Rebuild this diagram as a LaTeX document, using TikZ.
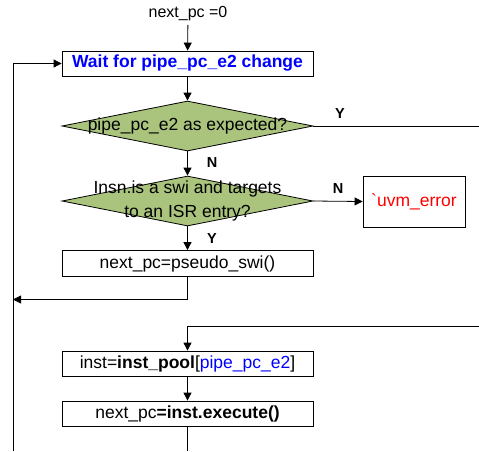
\documentclass[tikz,border=0pt]{standalone}
\usepackage{fontspec}
\setmainfont{Liberation Sans}
\usepackage{tikz}
\usetikzlibrary{shapes.geometric,     % losanges
           arrows.meta,               % pointes de fleches
           positioning}
\definecolor{vert}{RGB}{170,196,126}

\begin{document}
\begin{tikzpicture}[x=1pt,y=-1pt,line width=0.8pt,
  boite/.style={draw,rectangle,minimum width=251pt,minimum height=25pt,inner sep=0pt,font=\fontsize{17.5}{20}\selectfont},
  losange/.style={draw,diamond,fill=vert,minimum width=251pt,minimum height=50pt,inner sep=0pt},
  txt/.style={font=\fontsize{17.5}{24}\selectfont,align=center},
  yn/.style={font=\fontsize{14.5}{16}\selectfont\bfseries},
  fl/.style={-{Triangle[length=8pt,width=8pt]}}]
\useasboundingbox(0,0)rectangle(479,451);
\node[font=\fontsize{16}{18}\selectfont](debut) at (188,14) {next\_pc =0};
\node[boite,font=\fontsize{17.5}{20}\selectfont\bfseries,text=blue](attente) at (187.5,63.5) {Wait for pipe\_pc\_e2 change};
\node[losange](test1) at (187.5,126) {};
\node[txt] at (test1.center) {pipe\_pc\_e2 as expected?};
\node[losange](test2) at (187.5,201) {};
\node[txt] at (test2.center) {Insn.is a swi and targets\\to an ISR entry?};
\node[boite,minimum width=102pt,minimum height=51pt,text=red](erreur) at (414,201.5) {\textasciigrave uvm\_error};
\node[boite,minimum height=26pt](swi) at (187.5,263.5) {next\_pc=pseudo\_swi()};
\node[boite](inst) at (187.5,363.5) {inst=\textbf{inst\_pool}[\textcolor{blue}{pipe\_pc\_e2}]};
\node[boite](exec) at (187.5,413.5) {next\_pc\textbf{=inst.execute()}};
\coordinate (bd1) at (479,126);
\coordinate (bd2) at (479,326);
\coordinate (g1) at (13,299.5);
\coordinate (g2) at (13,451);
\coordinate (b2) at (187.5,451);
\draw[fl](debut)--(attente);
\draw[fl](attente)--(test1);
\draw(test1.east)--(bd1);
\draw[fl](test1.south)--(test2.north);
\draw[fl](test2.east)--(erreur.west);
\draw[fl](test2.south)--(swi.north);
\draw[fl](swi.south)|-(g1);
\draw[fl](g2)|-(attente.west);
\draw[fl](bd2)-|(inst.north);
\draw[fl](inst)--(exec);
\draw(exec.south)--(b2);
\node[yn](y1) at (340,114) {Y};
\node[yn](n1) at (212,163) {N};
\node[yn](n2) at (338,189) {N};
\node[yn](y2) at (212,239) {Y};
\end{tikzpicture}
\end{document}
